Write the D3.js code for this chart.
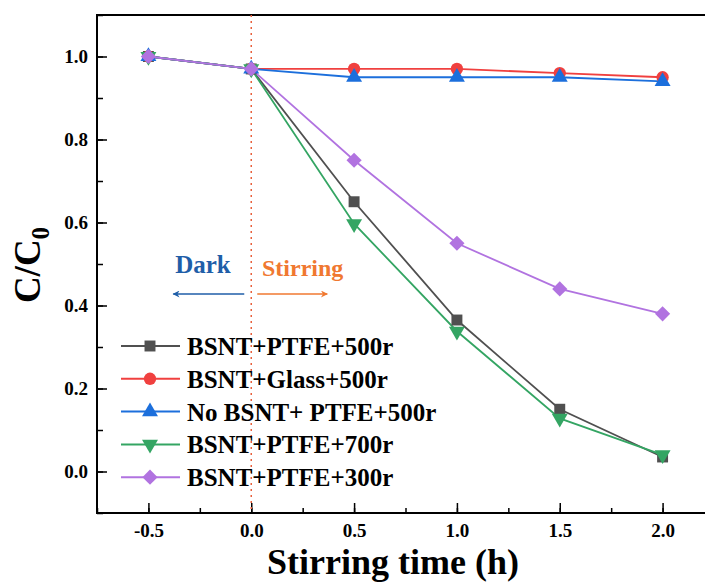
<!DOCTYPE html>
<html>
<head>
<meta charset="utf-8">
<script src="https://cdn.jsdelivr.net/npm/d3@7"></script>
<style>
  html, body { margin: 0; padding: 0; background: #fff; }
  svg { display: block; }
  svg text { font-family: "Liberation Serif", "Times New Roman", serif; font-weight: bold; }
</style>
</head>
<body>
<svg id="chart" width="705" height="583"></svg>
<script>
// Time points (h) and C/C0 for each run
const times = [-0.5, 0, 0.5, 1.0, 1.5, 2.0];
const ptfe500 = [1.0, 0.97, 0.65, 0.365, 0.15, 0.035];
const glass500 = [1.0, 0.97, 0.97, 0.97, 0.96, 0.95];
const noBsnt500 = [1.0, 0.97, 0.95, 0.95, 0.95, 0.94];
const ptfe700 = [1.0, 0.97, 0.597, 0.338, 0.128, 0.04];
const ptfe300 = [1.0, 0.97, 0.75, 0.55, 0.44, 0.38];

const seriesNames = ["BSNT+PTFE+500r", "BSNT+Glass+500r", "No BSNT+ PTFE+500r", "BSNT+PTFE+700r", "BSNT+PTFE+300r"];
const xTicks = [-0.5, 0.0, 0.5, 1.0, 1.5, 2.0];
const yTicks = [0.0, 0.2, 0.4, 0.6, 0.8, 1.0];

const series = [
  { name: seriesNames[0], values: ptfe500, color: "#505050", symbol: d3.symbolSquare, size: 120, rot: 0 },
  { name: seriesNames[1], values: glass500, color: "#f0403f", symbol: d3.symbolCircle, size: 120, rot: 0 },
  { name: seriesNames[2], values: noBsnt500, color: "#1c6fdc", symbol: d3.symbolTriangle, size: 110, rot: 0 },
  { name: seriesNames[3], values: ptfe700, color: "#34a563", symbol: d3.symbolTriangle, size: 110, rot: 180 },
  { name: seriesNames[4], values: ptfe300, color: "#b173e0", symbol: d3.symbolSquare, size: 115, rot: 45 },
];

const svg = d3.select("#chart");
const margin = { left: 97, top: 15, right: 714, bottom: 513 };

const x = d3.scaleLinear().domain([-0.75, 2.25]).range([margin.left, margin.right]);
const y = d3.scaleLinear().domain([-0.1, 1.1]).range([margin.bottom, margin.top]);
const fmt = (d) => d3.format(".1f")(d).replace("−", "-");

// axes: major ticks inside, minor ticks shorter
const xAxis = svg.append("g").attr("transform", `translate(0,${margin.bottom})`);
xAxis.call(d3.axisBottom(x).tickValues(d3.range(-0.75, 2.26, 0.25)).tickSize(-5).tickFormat(""));
xAxis.append("g").call(d3.axisBottom(x).tickValues(xTicks).tickSize(-10).tickPadding(11).tickFormat(fmt));

const yAxis = svg.append("g").attr("transform", `translate(${margin.left},0)`);
yAxis.call(d3.axisLeft(y).tickValues(d3.range(-0.1, 1.11, 0.1)).tickSize(-6).tickFormat(""));
yAxis.append("g").call(d3.axisLeft(y).tickValues(yTicks).tickSize(-10).tickPadding(9).tickFormat(fmt));

svg.selectAll(".tick line").attr("stroke", "#000").attr("stroke-width", 1.5);
svg.selectAll(".domain").remove();
svg.selectAll(".tick text").attr("font-size", 19).attr("fill", "#000")
  .style("font-family", "'Liberation Serif', serif").style("font-weight", "bold");

// frame
svg.append("rect")
  .attr("x", margin.left).attr("y", margin.top)
  .attr("width", margin.right - margin.left).attr("height", margin.bottom - margin.top)
  .attr("fill", "none").attr("stroke", "#000").attr("stroke-width", 2);

// dotted divider at t = 0
svg.append("line")
  .attr("x1", x(0)).attr("x2", x(0)).attr("y1", margin.top).attr("y2", margin.bottom)
  .attr("stroke", "#e8603c").attr("stroke-width", 1.5).attr("stroke-dasharray", "2,4");

// Dark / Stirring annotations
const defs = svg.append("defs");
[["arrBlue", "#1f5ea8"], ["arrOrange", "#f07830"]].forEach(([id, c]) => {
  defs.append("marker").attr("id", id).attr("viewBox", "0 0 10 10").attr("refX", 9).attr("refY", 5)
    .attr("markerWidth", 12).attr("markerHeight", 7).attr("markerUnits", "userSpaceOnUse").attr("orient", "auto")
    .append("path").attr("d", "M0,0L10,5L0,10L3,5Z").attr("fill", c);
});
svg.append("text").attr("x", 203).attr("y", 273).attr("text-anchor", "middle")
  .attr("font-size", 25).attr("fill", "#1f5ea8").text("Dark");
svg.append("text").attr("x", 262).attr("y", 276)
  .attr("font-size", 24).attr("fill", "#f07830").text("Stirring");
svg.append("line").attr("x1", x(0) - 7).attr("x2", x(0) - 78).attr("y1", 294).attr("y2", 294)
  .attr("stroke", "#1f5ea8").attr("stroke-width", 1.5).attr("marker-end", "url(#arrBlue)");
svg.append("line").attr("x1", x(0) + 6).attr("x2", x(0) + 76).attr("y1", 294).attr("y2", 294)
  .attr("stroke", "#f07830").attr("stroke-width", 1.5).attr("marker-end", "url(#arrOrange)");

// lines and markers
const line = d3.line().x((d, i) => x(times[i])).y((d) => y(d));
const plot = svg.append("g");
series.forEach((s) => {
  plot.append("path").attr("d", line(s.values)).attr("fill", "none")
    .attr("stroke", s.color).attr("stroke-width", 1.8);
});
series.forEach((s) => {
  plot.append("g").selectAll("path").data(s.values).join("path")
    .attr("d", d3.symbol(s.symbol, s.size))
    .attr("transform", (d, i) => `translate(${x(times[i])},${y(d)}) rotate(${s.rot})`)
    .attr("fill", s.color);
});

// legend
const legend = svg.append("g");
series.forEach((s, i) => {
  const ly = 346 + i * 32.8;
  legend.append("line").attr("x1", 121).attr("x2", 180).attr("y1", ly).attr("y2", ly)
    .attr("stroke", s.color).attr("stroke-width", 2);
  legend.append("path").attr("d", d3.symbol(s.symbol, s.size))
    .attr("transform", `translate(150,${ly}) rotate(${s.rot})`).attr("fill", s.color);
  legend.append("text").attr("x", 187).attr("y", ly + 9).attr("font-size", 25).attr("fill", "#000").text(s.name);
});

// axis titles
svg.append("text").attr("x", 393).attr("y", 574).attr("text-anchor", "middle")
  .attr("font-size", 36).attr("fill", "#000").text("Stirring time (h)");
const yt = svg.append("text").attr("transform", "translate(40,265) rotate(-90)")
  .attr("text-anchor", "middle").attr("font-size", 37).attr("fill", "#000");
yt.append("tspan").text("C/C");
yt.append("tspan").attr("font-size", 25).attr("dy", 9).text("0");
</script>
</body>
</html>
